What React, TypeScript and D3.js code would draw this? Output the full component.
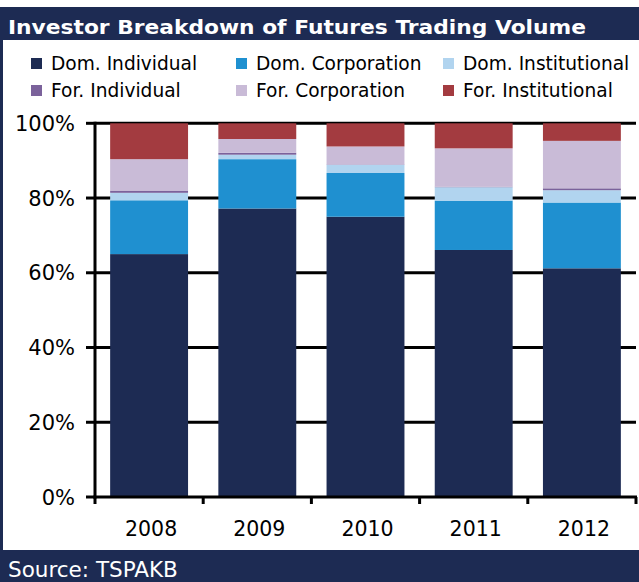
import React from "react";
import * as d3 from "d3";

const years = ["2008", "2009", "2010", "2011", "2012"];
const seriesNames = [
  "Dom. Individual",
  "Dom. Corporation",
  "Dom. Institutional",
  "For. Individual",
  "For. Corporation",
  "For. Institutional",
];
const domIndividual = [65.0, 77.2, 75.0, 66.1, 61.2];
const domCorporation = [14.4, 13.2, 11.7, 13.2, 17.6];
const domInstitutional = [2.0, 1.2, 2.2, 3.6, 3.3];
const forIndividual = [0.6, 0.5, 0.1, 0.1, 0.5];
const forCorporation = [8.4, 3.7, 4.8, 10.3, 12.7];
const forInstitutional = [9.6, 4.2, 6.2, 6.7, 4.7];
const yTicks = [0, 20, 40, 60, 80, 100];
const colors = ["#1d2b53", "#1f90d0", "#b1d4ef", "#7b629b", "#c9bbd7", "#a33b40"];

const W = 639;
const H = 582;
const NAVY = "#1d2b53";
const FONT = "'DejaVu Sans', Verdana, sans-serif";

export default function App() {
  const values = [domIndividual, domCorporation, domInstitutional, forIndividual, forCorporation, forInstitutional];
  const rows = years.map((y, i) => {
    const r: any = { year: y };
    seriesNames.forEach((s, k) => (r[s] = values[k][i]));
    return r;
  });
  const stacked = d3.stack<any>().keys(seriesNames)(rows);

  const x = d3.scaleBand().domain(years).range([95, 636]).paddingInner(0.28).paddingOuter(0.14);
  const y = d3.scaleLinear().domain([0, 100]).range([497, 123.3]);
  const step = x.step();
  const boundaries = d3.range(years.length + 1).map((k) => 95 + k * step);

  const legendCols = [31, 236, 443];
  const legendRows = [58, 85];

  return (
    <svg width={W} height={H} style={{ position: "absolute", left: 0, top: 0 }}>
      <rect x={0} y={0} width={W} height={H} fill="#fff" />
      {/* title bar */}
      <rect x={0} y={7} width={W} height={33} fill={NAVY} />
      <text x={8} y={33.5} fill="#fff" fontFamily={FONT} fontWeight="bold" fontSize={19.5}
        textLength={578} lengthAdjust="spacingAndGlyphs">
        Investor Breakdown of Futures Trading Volume
      </text>
      {/* left frame */}
      <rect x={0} y={40} width={3} height={510} fill={NAVY} />
      {/* source band */}
      <rect x={0} y={550} width={W} height={32} fill={NAVY} />
      <text x={8} y={577} fill="#fff" fontFamily={FONT} fontSize={21.5}>Source: TSPAKB</text>

      {/* legend */}
      {seriesNames.map((s, k) => {
        const cx = legendCols[k % 3];
        const ry = legendRows[Math.floor(k / 3)];
        return (
          <g key={s}>
            <rect x={cx} y={ry} width={11} height={11} fill={colors[k]} />
            <text x={cx + 20} y={ry + 11.5} fontFamily={FONT} fontSize={18.6} fill="#000">{s}</text>
          </g>
        );
      })}

      {/* gridlines */}
      {yTicks.filter((t) => t > 0).map((t) => (
        <line key={t} x1={95} x2={636} y1={y(t)} y2={y(t)} stroke="#000" strokeWidth={3} />
      ))}

      {/* bars */}
      {stacked.map((layer, k) => (
        <g key={layer.key} fill={colors[k]}>
          {layer.map((d, i) => (
            <rect key={i} x={x(years[i])} width={x.bandwidth()} y={y(d[1])} height={Math.max(0, y(d[0]) - y(d[1]))} />
          ))}
        </g>
      ))}

      {/* y axis */}
      <line x1={95} x2={95} y1={y(100) - 1.5} y2={y(0) + 1.5} stroke="#000" strokeWidth={3} />
      {yTicks.map((t) => (
        <g key={t}>
          <line x1={86} x2={95} y1={y(t)} y2={y(t)} stroke="#000" strokeWidth={3} />
          <text x={75} y={y(t) + 7.5} textAnchor="end" fontFamily={FONT} fontSize={21} fill="#000">{t}%</text>
        </g>
      ))}

      {/* x axis */}
      <line x1={93.5} x2={637} y1={y(0)} y2={y(0)} stroke="#000" strokeWidth={3} />
      {boundaries.map((bx, k) => (
        <line key={k} x1={bx} x2={bx} y1={y(0)} y2={504} stroke="#000" strokeWidth={3} />
      ))}
      {years.map((yr) => (
        <text key={yr} x={(x(yr) as number) + x.bandwidth() / 2 + 2} y={535.5} textAnchor="middle"
          fontFamily={FONT} fontSize={20.5} fill="#000">{yr}</text>
      ))}
    </svg>
  );
}
